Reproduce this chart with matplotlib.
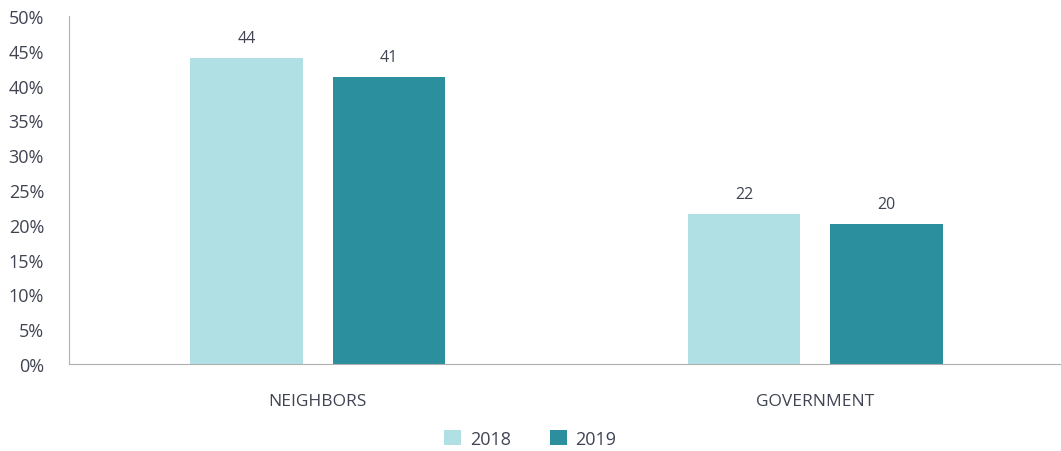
import numpy as np
import matplotlib.pyplot as plt

categories = ["NEIGHBORS", "GOVERNMENT"]
years = ["2018", "2019"]
values_2018 = [43.9, 21.5]
values_2019 = [41.2, 20.1]
labels_2018 = ["44", "22"]
labels_2019 = ["41", "20"]

colors = ["#b0dfe4", "#2b8f9d"]
text_color = "#404452"

plt.rcParams['font.family'] = ['Open Sans', 'DejaVu Sans']

fig = plt.figure(figsize=(10.61, 4.52), dpi=100)
ax = fig.add_axes([69/1061, 1-365/452, 995/1061, 348/452])

x = np.arange(len(categories))
w = 0.226
off = 0.143
b1 = ax.bar(x - off, values_2018, w, color=colors[0], label=years[0])
b2 = ax.bar(x + off, values_2019, w, color=colors[1], label=years[1])

for bars, labs in [(b1, labels_2018), (b2, labels_2019)]:
    for r, lab in zip(bars, labs):
        ax.annotate(lab, (r.get_x() + r.get_width()/2, r.get_height()),
                    xytext=(0, 9), textcoords="offset points",
                    ha="center", va="bottom", fontsize=11.5, color=text_color)

ax.set_xlim(-0.5, 1.5)
ax.set_ylim(0, 50)
ax.set_yticks(np.arange(0, 51, 5))
ax.set_yticklabels([f"{v}%" for v in range(0, 51, 5)], fontsize=13, color=text_color)
ax.set_xticks(x)
ax.set_xticklabels(categories, fontsize=12.5, color=text_color)
ax.tick_params(axis="x", length=0, pad=21)
ax.tick_params(axis="y", length=0, pad=18)
for s in ["top", "right"]:
    ax.spines[s].set_visible(False)
ax.spines["left"].set_color("#b0b0b0")
ax.spines["bottom"].set_color("#b0b0b0")

leg = fig.legend(loc="center", bbox_to_anchor=(0.5, 1-440/452), ncol=2, frameon=False,
                 fontsize=13, handlelength=0.9, handleheight=0.9, columnspacing=2.2,
                 handletextpad=0.5)
for t in leg.get_texts():
    t.set_color(text_color)

fig.savefig("out.png", dpi=100)
